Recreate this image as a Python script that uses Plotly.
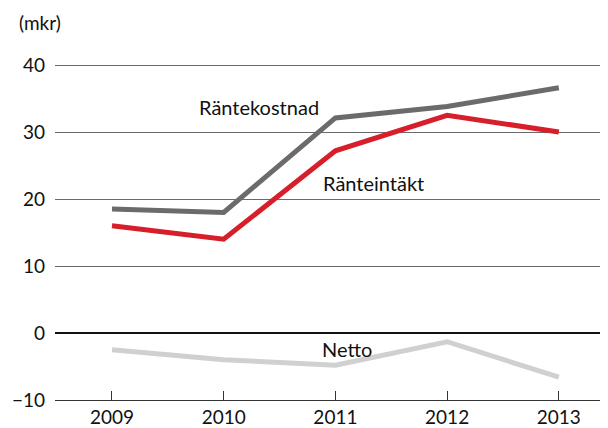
import plotly.graph_objects as go

years = [2009, 2010, 2011, 2012, 2013]
rantekostnad = [18.5, 18.0, 32.1, 33.8, 36.6]
ranteintakt = [16.0, 14.0, 27.2, 32.5, 30.0]
netto = [-2.5, -4.0, -4.8, -1.3, -6.6]
ytick_vals = [-10, 0, 10, 20, 30, 40]
ytick_text = ["\u221210", "0", "10", "20", "30", "40"]

FONT = "Lato, 'Open Sans', sans-serif"

fig = go.Figure()
fig.add_trace(go.Scatter(x=years, y=netto, mode="lines", line=dict(color="#d0d0d0", width=5), name="Netto"))
fig.add_trace(go.Scatter(x=years, y=rantekostnad, mode="lines", line=dict(color="#6b6b6d", width=5), name="Räntekostnad"))
fig.add_trace(go.Scatter(x=years, y=ranteintakt, mode="lines", line=dict(color="#d71f2b", width=5), name="Ränteintäkt"))

ann_font = dict(family=FONT, size=20, color="#111111")
fig.add_annotation(x=2010.32, y=33.8, text="Räntekostnad", showarrow=False, font=ann_font, xref="x", yref="y")
fig.add_annotation(x=2011.34, y=22.4, text="Ränteintäkt", showarrow=False, font=ann_font, xref="x", yref="y")
fig.add_annotation(x=2011.1, y=-2.4, text="Netto", showarrow=False, font=ann_font, xref="x", yref="y")
fig.add_annotation(x=-0.068, y=1.118, text="(mkr)", showarrow=False,
                   font=dict(family=FONT, size=19, color="#111111"),
                   xref="paper", yref="paper", xanchor="left", yanchor="middle")

# The page body adds an 8px offset, so the figure is 8px smaller and margins shifted
fig.update_layout(
    width=600, height=420,
    margin=dict(l=47, r=0, t=54, b=18),
    paper_bgcolor="white", plot_bgcolor="white",
    showlegend=False,
    font=dict(family=FONT, size=19, color="#111111"),
    xaxis=dict(
        range=[2008.49, 2013.44],
        tickvals=years, ticktext=[str(y) for y in years],
        ticks="inside", ticklen=9, tickcolor="#333333", tickwidth=1.2,
        showgrid=False, zeroline=False,
        showline=True, linecolor="#333333", linewidth=1.3,
        ticklabelstandoff=0,
        tickfont=dict(family=FONT, size=19, color="#111111"),
        fixedrange=True,
    ),
    yaxis=dict(
        range=[-10, 40.45],
        tickvals=ytick_vals, ticktext=ytick_text,
        ticks="", showgrid=True, gridcolor="#6a6a6a", gridwidth=1.3,
        zeroline=True, zerolinecolor="#111111", zerolinewidth=1.6,
        showline=False,
        ticklabelstandoff=9,
        tickfont=dict(family=FONT, size=19, color="#111111"),
        fixedrange=True,
    ),
)

fig.write_html("out.html")
